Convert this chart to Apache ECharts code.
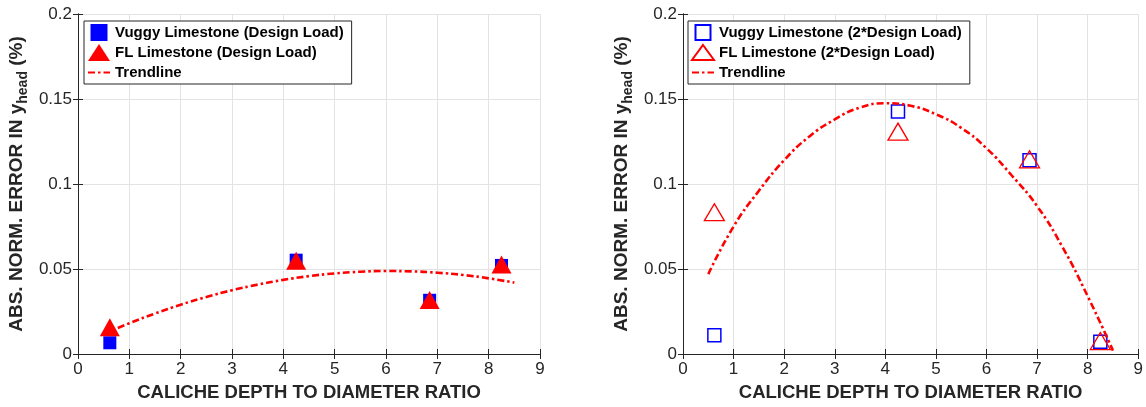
<!DOCTYPE html>
<html>
<head>
<meta charset="utf-8">
<script src="https://cdn.jsdelivr.net/npm/echarts@6.0.0/dist/echarts.min.js"></script>
<style>
  html, body { margin: 0; padding: 0; background: #fff; }
  #chart { width: 1146px; height: 407px; }
</style>
</head>
<body>
<div id="chart"></div>
<script>
// caliche depth / diameter ratio of the test sections
const ratio = [0.62, 4.25, 6.85, 8.25];

// design load
const vuggyDesign = [0.0066, 0.0552, 0.0316, 0.0521];
const flDesign = [0.0157, 0.0548, 0.0318, 0.0527];

// 2 * design load
const vuggyDouble = [0.011, 0.1427, 0.1139, 0.0072];
const flDouble = [0.0834, 0.1308, 0.1145, 0.0076];

// trendlines
const trendX = [0.5, 1, 1.5, 2, 2.5, 3, 3.5, 4, 4.5, 5, 5.5, 6, 6.5, 7, 7.5, 8, 8.5];
const trendDesign = [0.0118, 0.0181, 0.0238, 0.0290, 0.0335, 0.0375, 0.0408, 0.0436, 0.0458,
    0.0474, 0.0484, 0.0488, 0.0486, 0.0478, 0.0465, 0.0445, 0.0420];
const trendDouble = [0.047, 0.075, 0.096, 0.114, 0.128, 0.138, 0.145, 0.1475, 0.146,
    0.141, 0.133, 0.121, 0.105, 0.087, 0.063, 0.034, 0.002];

const FONT = "'Liberation Sans', Arial, Helvetica, sans-serif";
const DARK = '#262626';
const SQUARE = 'path://M0,0L10,0L10,10L0,10Z';
const DASHDOT = [7, 3, 2.5, 3];

function pairs(xs, ys) {
    return xs.map(function (x, i) { return [x, ys[i]]; });
}

function xAxes(gridIndex) {
    const base = {
        type: 'value', gridIndex: gridIndex, min: 0, max: 9, interval: 1,
        axisLine: { show: true, lineStyle: { color: DARK, width: 1 } },
        axisTick: { show: true, inside: true, length: 5, lineStyle: { color: DARK } }
    };
    return [
        Object.assign({}, base, {
            position: 'bottom',
            name: 'CALICHE DEPTH TO DIAMETER RATIO',
            nameLocation: 'middle',
            nameGap: 29,
            nameTextStyle: { fontFamily: FONT, fontSize: 18.5, fontWeight: 'bold', color: DARK },
            axisLabel: { fontFamily: FONT, fontSize: 17, color: DARK, margin: 7 },
            splitLine: { show: true, lineStyle: { color: '#e3e3e3', width: 1 } }
        }),
        Object.assign({}, base, {
            position: 'top',
            axisLabel: { show: false },
            splitLine: { show: false }
        })
    ];
}

function yAxes(gridIndex) {
    const base = {
        type: 'value', gridIndex: gridIndex, min: 0, max: 0.2, interval: 0.05,
        axisLine: { show: true, lineStyle: { color: DARK, width: 1 } },
        axisTick: { show: true, inside: true, length: 5, lineStyle: { color: DARK } }
    };
    return [
        Object.assign({}, base, {
            position: 'left',
            name: '{a|ABS. NORM. ERROR IN y}{b|head}{a| (%)}',
            nameLocation: 'middle',
            nameGap: 48,
            nameTextStyle: {
                rich: {
                    a: { fontFamily: FONT, fontSize: 19, fontWeight: 'bold', color: DARK, lineHeight: 27 },
                    b: { fontFamily: FONT, fontSize: 14, fontWeight: 'bold', color: DARK, lineHeight: 14, verticalAlign: 'bottom' }
                }
            },
            axisLabel: { fontFamily: FONT, fontSize: 17, color: DARK, margin: 6 },
            splitLine: { show: true, lineStyle: { color: '#e3e3e3', width: 1 } }
        }),
        Object.assign({}, base, {
            position: 'right',
            axisLabel: { show: false },
            splitLine: { show: false }
        })
    ];
}

function legend(left, names, iconHeight, gap) {
    return {
        data: names,
        orient: 'vertical',
        left: left,
        top: 21,
        padding: [3, 8, 3, 3],
        itemWidth: 22,
        itemHeight: iconHeight,
        itemGap: gap,
        backgroundColor: '#fff',
        borderColor: DARK,
        borderWidth: 1,
        borderRadius: 0,
        selectedMode: false,
        textStyle: { fontFamily: FONT, fontSize: 15, fontWeight: 'bold', color: '#000', lineHeight: 17 }
    };
}

const trendStyle = { color: '#ff0000', width: 2.6, type: DASHDOT };

const option = {
    animation: false,
    backgroundColor: '#fff',
    grid: [
        { left: 78, top: 14, width: 462, height: 343 },
        { left: 683, top: 14, width: 459, height: 343 }
    ],
    xAxis: xAxes(0).concat(xAxes(1)),
    yAxis: yAxes(0).concat(yAxes(1)),
    legend: [
        legend(84, ['Vuggy Limestone (Design Load)', 'FL Limestone (Design Load)', 'Trendline'], 17, 3),
        legend(688, ['Vuggy Limestone (2*Design Load)', 'FL Limestone (2*Design Load)', 'Trendline'], 15, 3)
    ],
    series: [
        {
            name: 'Vuggy Limestone (Design Load)', type: 'scatter', xAxisIndex: 0, yAxisIndex: 0,
            symbol: SQUARE, symbolSize: 13,
            itemStyle: { color: '#0000ff', opacity: 1 },
            data: pairs(ratio, vuggyDesign)
        },
        {
            name: 'FL Limestone (Design Load)', type: 'scatter', xAxisIndex: 0, yAxisIndex: 0,
            symbol: 'triangle', symbolSize: [20, 18],
            itemStyle: { color: '#ff0000', opacity: 1 },
            data: pairs(ratio, flDesign)
        },
        {
            name: 'Trendline', type: 'line', xAxisIndex: 0, yAxisIndex: 0,
            showSymbol: false, symbol: 'none', smooth: true,
            lineStyle: trendStyle, itemStyle: { color: 'rgba(255,255,255,0)' },
            data: pairs(trendX, trendDesign)
        },
        {
            name: 'Vuggy Limestone (2*Design Load)', type: 'scatter', xAxisIndex: 2, yAxisIndex: 2,
            symbol: SQUARE, symbolSize: 13,
            itemStyle: { color: 'rgba(255,255,255,0)', borderColor: '#0000ff', borderWidth: 1.5, opacity: 1 },
            data: pairs(ratio, vuggyDouble)
        },
        {
            name: 'FL Limestone (2*Design Load)', type: 'scatter', xAxisIndex: 2, yAxisIndex: 2,
            symbol: 'triangle', symbolSize: [20, 17],
            itemStyle: { color: 'rgba(255,255,255,0)', borderColor: '#ff0000', borderWidth: 1.3, opacity: 1 },
            data: pairs(ratio, flDouble)
        },
        {
            name: 'Trendline', type: 'line', xAxisIndex: 2, yAxisIndex: 2,
            showSymbol: false, symbol: 'none', smooth: true,
            lineStyle: trendStyle, itemStyle: { color: 'rgba(255,255,255,0)' },
            data: pairs(trendX, trendDouble)
        }
    ]
};

echarts.init(document.getElementById('chart')).setOption(option);
</script>
</body>
</html>
